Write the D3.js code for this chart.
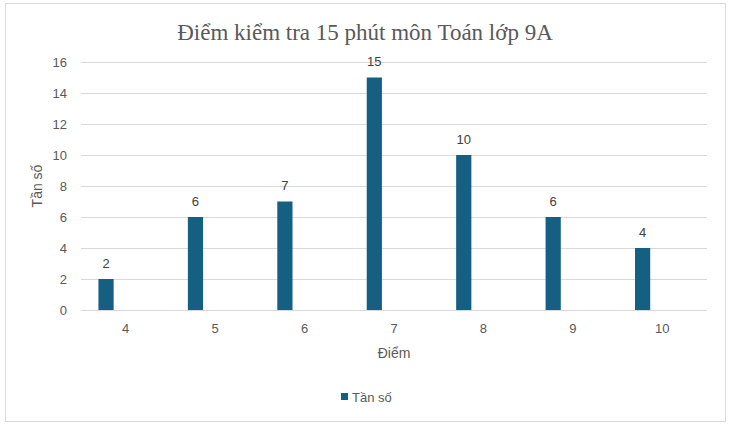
<!DOCTYPE html>
<html><head><meta charset="utf-8">
<script src="https://cdn.jsdelivr.net/npm/d3@7"></script>
<style>body{margin:0;background:#fff}</style>
</head><body>
<svg id="c" width="730" height="430"></svg>
<script>
const categories = ["4","5","6","7","8","9","10"];
const values = [2,6,7,15,10,6,4];
const yTicks = [0,2,4,6,8,10,12,14,16];
const title = "Điểm kiểm tra 15 phút môn Toán lớp 9A";
const xTitle = "Điểm";
const yTitle = "Tần số";
const seriesName = "Tần số";

const svg = d3.select("#c");
const sans = "'Liberation Sans', Arial, sans-serif";
const txt = "#595959";
svg.append("rect").attr("x",5.5).attr("y",3.5).attr("width",720).attr("height",418)
  .attr("fill","#fff").attr("stroke","#d9d9d9");

const m = {l:81, r:707, t:62, b:310};
const x = d3.scaleBand().domain(categories).range([m.l,m.r]);
const y = d3.scaleLinear().domain([0,16]).range([m.b,m.t]);

svg.append("text").attr("x",365).attr("y",40).attr("text-anchor","middle")
  .attr("font-family","'Liberation Serif','Times New Roman',serif").attr("font-size",23)
  .attr("fill",txt).text(title);

const g = svg.append("g");
g.selectAll("line.grid").data(yTicks).join("line").attr("class","grid")
  .attr("x1",m.l).attr("x2",m.r).attr("y1",d=>y(d)+0.5).attr("y2",d=>y(d)+0.5)
  .attr("stroke","#d9d9d9").attr("stroke-width",1);

g.selectAll("text.yt").data(yTicks).join("text").attr("class","yt")
  .attr("x",67).attr("y",d=>y(d)).attr("dy","0.35em").attr("text-anchor","end")
  .attr("font-family",sans).attr("font-size",13).attr("fill",txt).text(d=>d);

g.selectAll("text.xt").data(categories).join("text").attr("class","xt")
  .attr("x",d=>x(d)+x.bandwidth()/2).attr("y",328).attr("dy","0.35em").attr("text-anchor","middle")
  .attr("font-family",sans).attr("font-size",13).attr("fill",txt).text(d=>d);

const bw = x.bandwidth();
g.selectAll("rect.bar").data(values).join("rect").attr("class","bar")
  .attr("x",(d,i)=>x(categories[i])+bw*0.195).attr("width",bw*0.17)
  .attr("y",d=>y(d)).attr("height",d=>y(0)-y(d)).attr("fill","#156082");

g.selectAll("text.lbl").data(values).join("text").attr("class","lbl")
  .attr("x",(d,i)=>x(categories[i])+bw*0.195+bw*0.085).attr("y",d=>y(d)-16).attr("dy","0.35em")
  .attr("text-anchor","middle").attr("font-family",sans).attr("font-size",13).attr("fill","#404040").text(d=>d);

svg.append("text").attr("x",(m.l+m.r)/2).attr("y",353).attr("dy","0.35em").attr("text-anchor","middle")
  .attr("font-family",sans).attr("font-size",14).attr("fill",txt).text(xTitle);
svg.append("text").attr("transform",`translate(37,${(m.t+m.b)/2}) rotate(-90)`).attr("dy","0.35em")
  .attr("text-anchor","middle").attr("font-family",sans).attr("font-size",14).attr("fill",txt).text(yTitle);

svg.append("rect").attr("x",341).attr("y",393).attr("width",7).attr("height",7).attr("fill","#156082");
svg.append("text").attr("x",352).attr("y",397).attr("dy","0.35em")
  .attr("font-family",sans).attr("font-size",13).attr("fill",txt).text(seriesName);
</script>
</body></html>
